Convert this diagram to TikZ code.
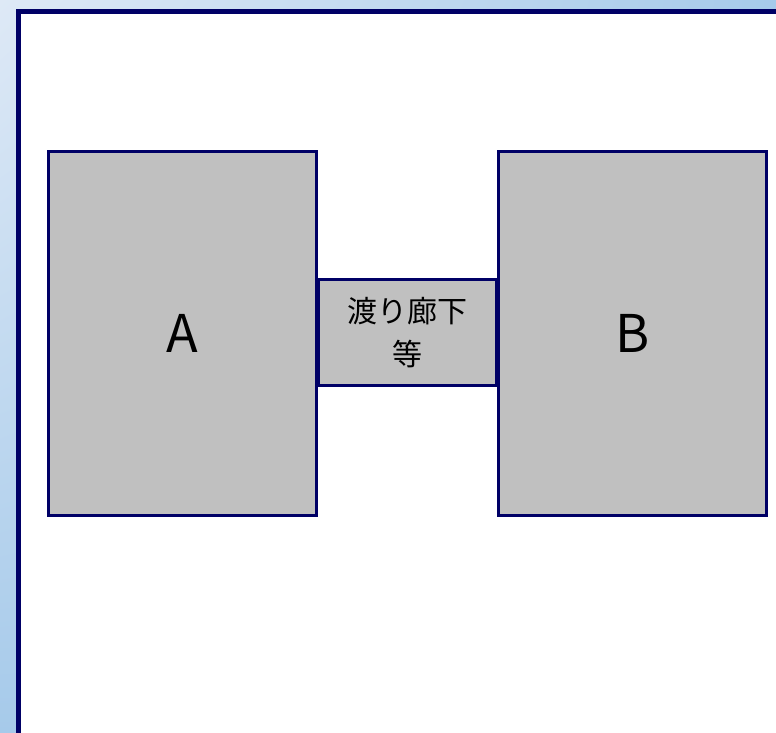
\documentclass[tikz,border=0pt]{standalone}
\usepackage{fontspec}
\setmainfont{Noto Sans CJK JP}
\usetikzlibrary{positioning, shadings}
\definecolor{cNavy}{RGB}{0,0,102}
\definecolor{cBldg}{RGB}{192,192,192}
\definecolor{cSkyA}{RGB}{222,233,246}
\definecolor{cSkyC}{RGB}{166,202,234}
\tikzset{
	bldg/.style    ={rectangle, draw=cNavy, line width=3.5pt, fill=cBldg, minimum width=268pt, minimum height=364pt, inner sep=0pt, font=\fontsize{52}{56}\selectfont},
	corridor/.style={rectangle, draw=cNavy, line width=3.5pt, fill=cBldg, minimum width=179pt, minimum height=106pt, inner sep=0pt, align=center, font=\fontsize{30}{43}\selectfont},
	panel/.style   ={draw=cNavy, line width=5pt, fill=white},
}
\begin{document}
\begin{tikzpicture}[x=1pt, y=-1pt]
			\useasboundingbox (0,0) rectangle (776,733);
			\clip (0,0) rectangle (776,733);
			\shade[upper left=cSkyA, upper right=cSkyC, lower left=cSkyC, lower right=cSkyC] (0,0) rectangle (776,733);
			\draw[panel] (18.5,11.5) rectangle (800,760);
			\node[bldg] (a) at (182.5,333.5) {A};
			\node[bldg] (b) at (632.5,333.5) {B};
			\node[corridor] (link) at (407.5,332.5) {渡り廊下\\等};
		\end{tikzpicture}
\end{document}
